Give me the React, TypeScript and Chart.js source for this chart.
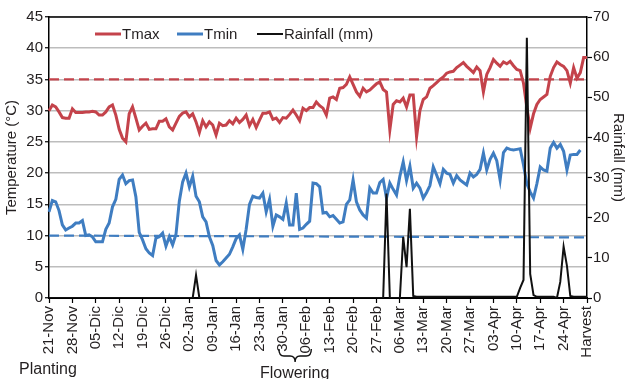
import React, { useEffect, useRef } from 'react';
import { Chart, registerables } from 'chart.js';

Chart.register(...registerables);

const TICK_LABELS = [
  '21-Nov', '28-Nov', '05-Dic', '12-Dic', '19-Dic', '26-Dic', '02-Jan', '09-Jan',
  '16-Jan', '23-Jan', '30-Jan', '06-Feb', '13-Feb', '20-Feb', '27-Feb', '06-Mar',
  '13-Mar', '20-Mar', '27-Mar', '03-Apr', '10-Apr', '17-Apr', '24-Apr', 'Harvest',
];

const TMAX = [
  30.0, 30.9, 30.6, 29.8, 28.9, 28.8, 28.8, 30.3, 29.7, 29.7,
  29.7, 29.8, 29.8, 29.9, 29.8, 29.3, 29.3, 29.8, 30.6, 30.9,
  29.3, 27.0, 25.6, 25.0, 29.5, 30.6, 28.8, 26.9, 27.5, 28.0,
  27.0, 27.1, 27.1, 28.3, 28.3, 28.7, 27.4, 26.9, 28.0, 29.1,
  29.6, 29.8, 29.0, 29.5, 28.2, 26.5, 28.4, 27.4, 28.2, 27.7,
  26.1, 28.0, 27.6, 27.7, 28.4, 27.9, 28.8, 28.1, 28.6, 29.3,
  27.6, 28.6, 27.3, 28.5, 29.6, 29.6, 29.8, 28.6, 28.8, 28.1,
  28.9, 28.8, 29.4, 30.1, 29.3, 28.4, 30.4, 30.0, 30.5, 30.5,
  31.4, 30.8, 30.4, 29.3, 32.0, 32.2, 31.8, 33.6, 33.7, 34.2,
  35.4, 34.2, 33.0, 32.3, 33.6, 33.0, 33.3, 33.8, 34.3, 34.6,
  33.4, 33.0, 26.9, 31.0, 31.6, 31.4, 32.0, 30.6, 32.5, 32.5,
  25.8, 30.0, 31.8, 32.2, 33.6, 34.0, 34.5, 35.0, 35.4, 36.0,
  36.2, 36.3, 36.9, 37.3, 37.7, 37.1, 36.6, 36.1, 37.0, 36.4,
  33.0, 35.8, 36.9, 38.2, 37.6, 37.1, 37.8, 37.5, 37.9, 37.2,
  36.6, 36.4, 34.4, 30.5, 27.2, 29.5, 31.0, 31.8, 32.2, 32.6,
  35.5, 36.9, 37.8, 37.4, 37.1, 36.4, 34.4, 36.9, 35.2, 36.1,
  38.5, 38.5,
];

const TMIN = [
  13.8, 15.6, 15.4, 14.0, 11.7, 10.9, 11.2, 11.5, 12.0, 12.0,
  12.4, 10.0, 10.1, 9.8, 9.0, 9.0, 9.0, 11.0, 12.0, 14.6,
  15.8, 19.0, 19.7, 18.3, 18.8, 18.9, 16.2, 10.5, 9.3, 7.9,
  7.2, 6.8, 9.6, 9.8, 10.4, 8.3, 9.8, 8.5, 10.2, 15.5,
  18.6, 20.0, 17.8, 19.5, 16.3, 15.4, 13.0, 12.2, 9.8, 8.4,
  6.0, 5.3, 5.8, 6.4, 7.0, 8.2, 9.5, 10.1, 7.8, 11.0,
  15.0, 16.3, 16.1, 16.0, 16.8, 13.8, 15.8, 11.5, 13.3, 13.0,
  12.6, 15.2, 11.7, 11.7, 16.8, 11.0, 11.2, 11.8, 12.3, 18.4,
  18.3, 17.8, 13.6, 13.7, 13.0, 13.2, 12.6, 12.0, 12.2, 15.0,
  15.7, 18.9, 15.4, 14.1, 13.3, 12.8, 17.6, 16.8, 16.8, 18.5,
  19.0, 16.0, 18.4, 17.4, 16.5, 19.5, 21.8, 18.8, 21.1, 17.6,
  18.4, 17.6, 16.0, 16.9, 18.0, 21.0, 19.7, 18.3, 20.6, 20.0,
  19.8, 18.4, 19.6, 18.9, 18.5, 18.1, 20.0, 19.4, 19.8, 20.6,
  23.2, 20.5, 22.2, 23.2, 22.0, 18.9, 23.3, 24.0, 23.8, 23.7,
  23.8, 23.9, 21.3, 18.3, 17.0, 16.0, 18.3, 21.0, 20.5, 20.3,
  24.0, 24.9, 24.0, 24.6, 23.5, 20.5, 22.9, 23.0, 23.0, 23.7,
  null, null,
];

const RAINFALL = [
  0, 0, 0, 0, 0, 0, 0, 0, 0, 0,
  0, 0, 0, 0, 0, 0, 0, 0, 0, 0,
  0, 0, 0, 0, 0, 0, 0, 0, 0, 0,
  0, 0, 0, 0, 0, 0, 0, 0, 0, 0,
  0, 0, 0, 0, 5.7, 0, 0, 0, 0, 0,
  0, 0, 0, 0, 0, 0, 0, 0, 0, 0,
  0, 0, 0, 0, 0, 0, 0, 0, 0, 0,
  0, 0, 0, 0, 0, 0, 0, 0, 0, 0,
  0, 0, 0, 0, 0, 0, 0, 0, 0, 0,
  0, 0, 0, 0, 0, 0, 0, 0, 0, 0,
  0, 26.0, 0, 0, 0, 0, 15.2, 7.7, 22.2, 0.5,
  0.3, 0.3, 0.3, 0.3, 0.3, 0.3, 0.3, 0.3, 0.3, 0.3,
  0.3, 0.3, 0.3, 0.3, 0.3, 0.3, 0.3, 0.3, 0.3, 0.3,
  0.3, 0.3, 0.3, 0.3, 0.3, 0.3, 0.3, 0.3, 0.3, 0.3,
  0.3, 2.5, 4.5, 64.8, 6.0, 0.7, 0.3, 0.3, 0.3, 0.3,
  0.3, 0.3, 0, 4.0, 12.8, 8.0, 0.5, 0.3, 0.3, 0.3,
  0.3, 0.3,
];

const TMAX_THRESHOLD = [35, 35];
const TMIN_THRESHOLD = [10, 9.7];

const DAY_LABELS = TMAX.map((_, i) => (i % 7 === 0 ? TICK_LABELS[i / 7] : `day ${i}`));

const RED = '#C4434B';
const BLUE = '#3F7DC1';
const TEXT = '#231F20';
const FONT_FAMILY = "'Liberation Sans', Arial, sans-serif";
const FONT_SIZE = 15;

const overlayPlugin = {
  id: 'overlay',
  beforeDatasetsDraw(chart: any) {
    const { ctx, chartArea } = chart;
    ctx.save();
    ctx.strokeStyle = '#000';
    ctx.lineWidth = 1.5;
    ctx.beginPath();
    ctx.moveTo(chartArea.left, chartArea.top);
    ctx.lineTo(chartArea.right, chartArea.top);
    ctx.stroke();
    ctx.restore();
  },
  afterDraw(chart: any) {
    const { ctx, chartArea, scales } = chart;
    ctx.save();
    ctx.font = `${FONT_SIZE}px ${FONT_FAMILY}`;
    ctx.fillStyle = TEXT;
    ctx.textBaseline = 'alphabetic';
    // legend
    const ly = chartArea.top + 17;
    const items = [
      { color: RED, width: 3, text: 'Tmax', x: 95 },
      { color: BLUE, width: 3, text: 'Tmin', x: 177 },
      { color: '#111', width: 2, text: 'Rainfall (mm)', x: 257 },
    ];
    items.forEach((it) => {
      ctx.strokeStyle = it.color;
      ctx.lineWidth = it.width;
      ctx.beginPath();
      ctx.moveTo(it.x, ly);
      ctx.lineTo(it.x + 26, ly);
      ctx.stroke();
      ctx.textAlign = 'left';
      ctx.fillText(it.text, it.x + 27, ly + 5);
    });
    // annotations below axis
    const x = scales.x;
    ctx.font = `16px ${FONT_FAMILY}`;
    ctx.textAlign = 'center';
    ctx.fillText('Planting', x.getPixelForValue(0) - 1, 374);
    const fx0 = x.getPixelForValue(70);
    const fx1 = x.getPixelForValue(77);
    ctx.fillText('Flowering', (fx0 + fx1) / 2, 378);
    // brace
    const bl = fx0 - 4;
    const br = fx1 + 5;
    const bm = (bl + br) / 2;
    const top = 349;
    const mid = 356;
    const tip = 362;
    ctx.strokeStyle = '#111';
    ctx.lineWidth = 1.4;
    ctx.beginPath();
    ctx.moveTo(bl, top);
    ctx.quadraticCurveTo(bl, mid, bl + 5, mid);
    ctx.lineTo(bm - 5, mid);
    ctx.quadraticCurveTo(bm, mid, bm, tip);
    ctx.quadraticCurveTo(bm, mid, bm + 5, mid);
    ctx.lineTo(br - 5, mid);
    ctx.quadraticCurveTo(br, mid, br, top);
    ctx.stroke();
    ctx.restore();
  },
};

export default function App() {
  const canvasRef = useRef<HTMLCanvasElement | null>(null);

  useEffect(() => {
    const canvas = canvasRef.current;
    if (!canvas) return;
    const font = { family: FONT_FAMILY, size: FONT_SIZE };
    const chart = new Chart(canvas, {
      type: 'line',
      data: {
        labels: DAY_LABELS,
        datasets: [
          {
            label: 'Tmax threshold',
            data: TMAX_THRESHOLD.map((v, i) => ({ x: DAY_LABELS[i === 0 ? 0 : DAY_LABELS.length - 1], y: v })),
            borderColor: RED,
            borderWidth: 2.2,
            borderDash: [10, 5],
            pointRadius: 0,
            yAxisID: 'y',
            order: 5,
          },
          {
            label: 'Tmin threshold',
            data: TMIN_THRESHOLD.map((v, i) => ({ x: DAY_LABELS[i === 0 ? 0 : DAY_LABELS.length - 1], y: v })),
            borderColor: BLUE,
            borderWidth: 2.2,
            borderDash: [10, 5],
            pointRadius: 0,
            yAxisID: 'y',
            order: 4,
          },
          {
            label: 'Tmax',
            data: TMAX,
            borderColor: RED,
            borderWidth: 3,
            pointRadius: 0,
            tension: 0,
            yAxisID: 'y',
            order: 3,
          },
          {
            label: 'Tmin',
            data: TMIN,
            borderColor: BLUE,
            borderWidth: 3,
            pointRadius: 0,
            tension: 0,
            yAxisID: 'y',
            order: 2,
          },
          {
            label: 'Rainfall (mm)',
            data: RAINFALL,
            borderColor: '#111',
            borderWidth: 2,
            pointRadius: 0,
            tension: 0,
            yAxisID: 'y1',
            order: 1,
          },
        ],
      },
      options: {
        animation: false,
        responsive: true,
        maintainAspectRatio: false,
        layout: { padding: { top: 17, left: 0, right: 0, bottom: 0 } },
        plugins: {
          legend: { display: false },
          tooltip: { enabled: false },
        },
        scales: {
          x: {
            type: 'category',
            offset: false,
            afterBuildTicks: (scale: any) => {
              scale.ticks = scale.ticks.filter((t: any) => t.value % 7 === 0);
            },
            afterFit: (scale: any) => {
              scale.height = 81;
            },
            ticks: {
              autoSkip: false,
              maxRotation: 90,
              minRotation: 90,
              padding: 3,
              font,
              color: TEXT,
              callback: function (this: any, value: any) {
                return this.getLabelForValue(value);
              },
            },
            grid: {
              drawOnChartArea: false,
              drawTicks: true,
              tickLength: 5,
              tickColor: '#000',
              tickWidth: 1.2,
            },
            border: { display: true, color: '#000', width: 2 },
          },
          y: {
            position: 'left',
            min: 0,
            max: 45,
            afterFit: (scale: any) => {
              scale.width = 49;
            },
            ticks: { stepSize: 5, padding: 2, font, color: TEXT },
            grid: {
              color: '#BDBDBD',
              lineWidth: 1.5,
              tickColor: '#000',
              tickLength: 4,
              tickWidth: 1.2,
            },
            border: { display: true, color: '#000', width: 1.5 },
            title: {
              display: true,
              text: 'Temperature (°C)',
              font,
              color: TEXT,
              padding: { top: 3, bottom: 0 },
            },
          },
          y1: {
            position: 'right',
            min: 0,
            max: 70,
            afterFit: (scale: any) => {
              scale.width = 40;
            },
            ticks: { stepSize: 10, padding: 1, font, color: TEXT },
            grid: {
              drawOnChartArea: false,
              drawTicks: true,
              tickLength: 5,
              tickColor: '#000',
              tickWidth: 1.2,
            },
            border: { display: true, color: '#000', width: 1.5 },
            title: {
              display: true,
              text: 'Rainfall (mm)',
              font,
              color: TEXT,
              padding: { top: 0, bottom: 0 },
            },
          },
        },
      },
      plugins: [overlayPlugin],
    });
    return () => chart.destroy();
  }, []);

  return (
    <div style={{ position: 'fixed', left: 0, top: 0, width: 627, height: 379, background: '#fff' }}>
      <canvas ref={canvasRef} />
    </div>
  );
}
